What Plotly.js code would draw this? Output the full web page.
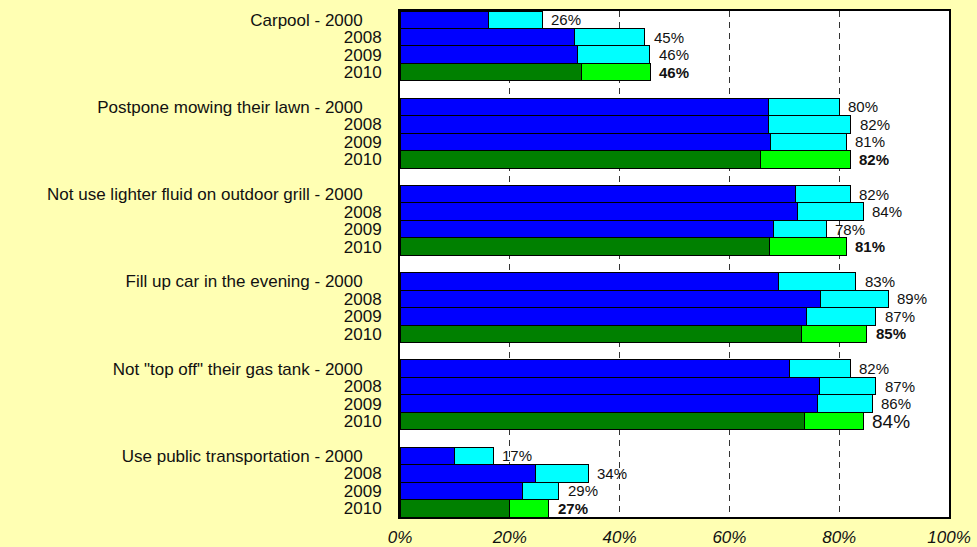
<!DOCTYPE html>
<html>
<head>
<meta charset="utf-8">
<script src="https://cdn.plot.ly/plotly-3.0.1.min.js"></script>
<style>html,body{margin:0;padding:0;background:#FFFFB3;}#chart{width:977px;height:547px;}</style>
</head>
<body>
<div id="chart"></div>
<script>
// ---- data ----
const groups = ['Carpool', 'Postpone mowing their lawn', 'Not use lighter fluid on outdoor grill',
                'Fill up car in the evening', 'Not "top off" their gas tank', 'Use public transportation'];
const years = ['2000', '2008', '2009', '2010'];
// first (dark) segment, percent
const carpoolA = [16.1, 31.7, 32.4, 33.1];
const mowingA  = [67.1, 67.1, 67.4, 65.6];
const lighterA = [72.1, 72.4, 68.1, 67.3];
const fillA    = [69.0, 76.6, 74.1, 73.2];
const topoffA  = [71.0, 76.5, 76.0, 73.6];
const publicA  = [10.0, 24.6, 22.4, 19.9];
// second (light) segment, percent
const carpoolB = [9.8, 12.9, 13.1, 12.5];
const mowingB  = [12.9, 15.0, 13.9, 16.4];
const lighterB = [9.9, 12.0, 9.5, 14.0];
const fillB    = [14.0, 12.3, 12.6, 11.8];
const topoffB  = [11.0, 10.2, 10.0, 10.8];
const publicB  = [7.0, 9.7, 6.5, 7.2];
// value labels
const carpoolL = ['26%', '45%', '46%', '46%'];
const mowingL  = ['80%', '82%', '81%', '82%'];
const lighterL = ['82%', '84%', '78%', '81%'];
const fillL    = ['83%', '89%', '87%', '85%'];
const topoffL  = ['82%', '87%', '86%', '84%'];
const publicL  = ['17%', '34%', '29%', '27%'];
const xTicks = [0, 20, 40, 60, 80, 100];

// ---- build ----
const segA = [carpoolA, mowingA, lighterA, fillA, topoffA, publicA];
const segB = [carpoolB, mowingB, lighterB, fillB, topoffB, publicB];
const labs = [carpoolL, mowingL, lighterL, fillL, topoffL, publicL];
const slotsPerGroup = years.length + 1;

const ys = [], ax = [], bx = [], ca = [], cb = [], tickvals = [], ticktext = [], annotations = [];
const font = 'Liberation Sans, Arial, Helvetica, sans-serif';
groups.forEach((g, gi) => {
  years.forEach((yr, yi) => {
    const pos = gi * slotsPerGroup + yi;
    ys.push(pos);
    ax.push(segA[gi][yi]);
    bx.push(segB[gi][yi]);
    const latest = yi === years.length - 1;
    ca.push(latest ? '#008000' : '#0000FF');
    cb.push(latest ? '#00FF00' : '#00FFFF');
    tickvals.push(pos);
    ticktext.push(yi === 0 ? g + ' - ' + yr + '\u00A0\u00A0\u00A0\u00A0' : yr);
    const special = (gi === 4 && latest);
    annotations.push({
      x: segA[gi][yi] + segB[gi][yi], y: pos, xref: 'x', yref: 'y',
      text: (latest && !special) ? '<b>' + labs[gi][yi] + '</b>' : labs[gi][yi],
      showarrow: false, xanchor: 'left', yanchor: 'middle', xshift: 7,
      font: {family: font, size: special ? 19 : 15, color: '#111'}
    });
  });
});

const traces = [
  {type: 'bar', orientation: 'h', x: ax, y: ys, marker: {color: ca, line: {color: '#000', width: 1}},
   hoverinfo: 'skip'},
  {type: 'bar', orientation: 'h', x: bx, y: ys, marker: {color: cb, line: {color: '#000', width: 1}},
   hoverinfo: 'skip'}
];

const layout = {
  width: 977, height: 547,
  paper_bgcolor: '#FFFFB3', plot_bgcolor: '#FFFFFF',
  margin: {l: 400, r: 28, t: 11, b: 30, pad: 0},
  barmode: 'stack', bargap: 0, showlegend: false,
  font: {family: font, color: '#111'},
  xaxis: {
    range: [0, 100], tickvals: xTicks, ticktext: xTicks.map(v => v + '%'),
    showgrid: true, gridcolor: '#333', griddash: '6px,5px', gridwidth: 1,
    zeroline: false, showline: true, mirror: true, linecolor: '#000', linewidth: 2,
    ticks: '', ticklabelstandoff: 4,
    tickfont: {family: font, size: 17, style: 'italic', color: '#111'}, fixedrange: true
  },
  yaxis: {
    range: [groups.length * slotsPerGroup - 1.5, -0.5],
    tickvals: tickvals, ticktext: ticktext,
    showgrid: false, zeroline: false, showline: true, mirror: true, linecolor: '#000', linewidth: 2,
    ticks: '', ticklabelstandoff: 13,
    tickfont: {family: font, size: 17, color: '#111'}, fixedrange: true
  },
  annotations: annotations
};

Plotly.newPlot('chart', traces, layout, {displayModeBar: false, staticPlot: true});
</script>
</body>
</html>
